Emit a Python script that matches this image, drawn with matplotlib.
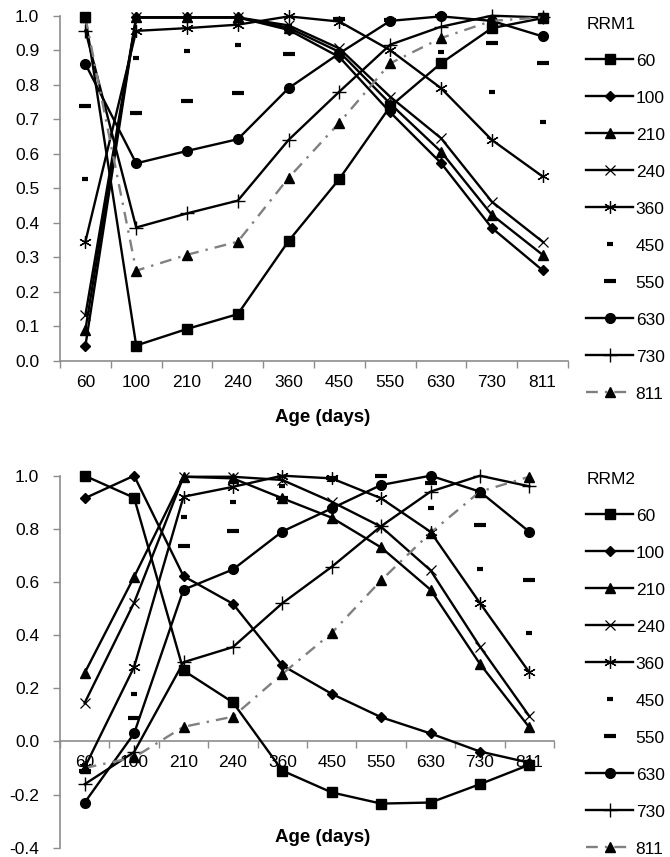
import matplotlib
matplotlib.use("Agg")
import matplotlib.pyplot as plt

plt.rcParams['font.family'] = ['Liberation Sans', 'DejaVu Sans']

ages = ['60', '100', '210', '240', '360', '450', '550', '630', '730', '811']
series_labels = ['60', '100', '210', '240', '360', '450', '550', '630', '730', '811']

# RRM1 relative expression by sample age
rrm1_60 = [0.995, 0.044, 0.092, 0.135, 0.347, 0.527, 0.737, 0.862, 0.964, 0.993]
rrm1_100 = [0.043, 0.995, 0.995, 0.995, 0.959, 0.880, 0.720, 0.573, 0.385, 0.262]
rrm1_210 = [0.090, 0.995, 0.995, 0.995, 0.965, 0.895, 0.745, 0.606, 0.423, 0.307]
rrm1_240 = [0.132, 0.995, 0.995, 0.995, 0.972, 0.905, 0.765, 0.645, 0.461, 0.345]
rrm1_360 = [0.345, 0.956, 0.964, 0.974, 0.998, 0.983, 0.900, 0.790, 0.640, 0.534]
rrm1_450 = [0.527, 0.877, 0.898, 0.916, 0.970, 0.991, 0.985, 0.894, 0.780, 0.693]
rrm1_550 = [0.739, 0.717, 0.753, 0.776, 0.889, 0.990, 0.988, 0.998, 0.920, 0.863]
rrm1_630 = [0.860, 0.572, 0.608, 0.642, 0.790, 0.891, 0.985, 0.998, 0.985, 0.940]
rrm1_730 = [0.957, 0.386, 0.427, 0.464, 0.640, 0.780, 0.916, 0.968, 1.000, 0.995]
rrm1_811 = [0.995, 0.261, 0.307, 0.345, 0.530, 0.690, 0.862, 0.935, 0.985, 0.995]

# RRM2 relative expression by sample age
rrm2_60 = [1.000, 0.917, 0.267, 0.147, -0.110, -0.192, -0.234, -0.230, -0.161, -0.088]
rrm2_100 = [0.915, 1.000, 0.622, 0.518, 0.286, 0.179, 0.091, 0.030, -0.038, -0.080]
rrm2_210 = [0.258, 0.619, 0.996, 0.990, 0.915, 0.842, 0.730, 0.571, 0.292, 0.053]
rrm2_240 = [0.145, 0.522, 0.996, 0.996, 0.984, 0.902, 0.808, 0.644, 0.357, 0.095]
rrm2_360 = [-0.098, 0.280, 0.921, 0.958, 1.000, 0.990, 0.915, 0.789, 0.521, 0.260]
rrm2_450 = [-0.090, 0.179, 0.845, 0.900, 0.960, 0.985, 0.965, 0.877, 0.650, 0.408]
rrm2_550 = [-0.110, 0.088, 0.735, 0.791, 0.915, 0.990, 1.000, 0.971, 0.814, 0.606]
rrm2_630 = [-0.230, 0.030, 0.571, 0.647, 0.790, 0.877, 0.965, 1.000, 0.940, 0.789]
rrm2_730 = [-0.161, -0.040, 0.298, 0.355, 0.520, 0.657, 0.810, 0.940, 1.000, 0.960]
rrm2_811 = [-0.100, -0.060, 0.055, 0.093, 0.254, 0.408, 0.606, 0.785, 0.940, 0.996]

rrm1 = [rrm1_60, rrm1_100, rrm1_210, rrm1_240, rrm1_360,
        rrm1_450, rrm1_550, rrm1_630, rrm1_730, rrm1_811]
rrm2 = [rrm2_60, rrm2_100, rrm2_210, rrm2_240, rrm2_360,
        rrm2_450, rrm2_550, rrm2_630, rrm2_730, rrm2_811]

BLACK = 'black'
GREY_AXIS = '#8c8c8c'
styles = [
    dict(marker='s', ms=7, ls='-', color=BLACK),
    dict(marker='D', ms=5, ls='-', color=BLACK),
    dict(marker='^', ms=7, ls='-', color=BLACK),
    dict(marker='x', ms=7, mew=0.9, ls='-', color=BLACK),
    dict(marker=(6, 2, 0), ms=9, mew=0.9, ls='-', color=BLACK),
    dict(marker='_', ms=5, mew=3, ls='none', color=BLACK),
    dict(marker='_', ms=8, mew=3, ls='none', color=BLACK),
    dict(marker='o', ms=7, ls='-', color=BLACK),
    dict(marker='+', ms=10, mew=1.0, ls='-', color=BLACK),
    dict(marker='^', ms=7, ls=(0, (5, 3, 1, 3)), color='#808080',
         mfc=BLACK, mec=BLACK),
]

TICK_FS = 12.5
x = list(range(len(ages)))

fig = plt.figure(figsize=(6.7, 8.57), dpi=100)


def draw_panel(ax, data, title, ymin, ymax, step, legend_top, spacing):
    for vals, label, st in zip(data, series_labels, styles):
        ax.plot(x, vals, lw=1.7, label=label, clip_on=False, zorder=3, **st)
    ax.set_xlim(-0.5, len(ages) - 0.5)
    ax.set_ylim(ymin, ymax)
    n = int(round((ymax - ymin) / step))
    yt = [ymin + i * step for i in range(n + 1)]
    ax.set_yticks(yt)
    ax.set_yticklabels(['%.1f' % v for v in yt])
    # category boundaries carry the tick marks, centres carry the labels
    ax.set_xticks([i - 0.5 for i in range(len(ages) + 1)])
    ax.set_xticklabels([])
    ax.set_xticks(x, minor=True)
    ax.set_xticklabels(ages, minor=True)
    ax.tick_params(axis='x', which='major', length=5, width=1, color=GREY_AXIS,
                   direction='out')
    ax.tick_params(axis='x', which='minor', length=0, pad=10,
                   labelsize=TICK_FS)
    ax.tick_params(axis='y', length=5, width=1, color=GREY_AXIS,
                   direction='out', pad=10, labelsize=TICK_FS)
    for s in ['top', 'right']:
        ax.spines[s].set_visible(False)
    for s in ['left', 'bottom']:
        ax.spines[s].set_color(GREY_AXIS)
        ax.spines[s].set_linewidth(1.2)
    ax.spines['bottom'].set_position(('data', 0))

    handles, labels = ax.get_legend_handles_labels()
    ax.legend(handles, labels, title=title, loc='upper left',
              bbox_to_anchor=(0.862, legend_top),
              bbox_transform=fig.transFigure, frameon=False,
              fontsize=TICK_FS, title_fontsize=TICK_FS,
              handlelength=2.7, handletextpad=0.15, handleheight=0.9,
              labelspacing=spacing, alignment='left', borderpad=0)


ax1 = fig.add_axes([60 / 670, 1 - 360.7 / 857, 508 / 670, 345 / 857])
draw_panel(ax1, rrm1, 'RRM1', 0.0, 1.0, 0.1, 1 - 8 / 857, 1.2)

ax2 = fig.add_axes([60 / 670, 1 - 847.7 / 857, 494 / 670, 372 / 857])
draw_panel(ax2, rrm2, 'RRM2', -0.4, 1.0, 0.2, 1 - 463 / 857, 1.2)

fig.text(323 / 670, 1 - 417 / 857, 'Age (days)', ha='center', va='center',
         fontsize=13.5, fontweight='bold')
fig.text(323 / 670, 1 - 837 / 857, 'Age (days)', ha='center', va='center',
         fontsize=13.5, fontweight='bold')

fig.savefig('out.png', dpi=100, facecolor='white')
